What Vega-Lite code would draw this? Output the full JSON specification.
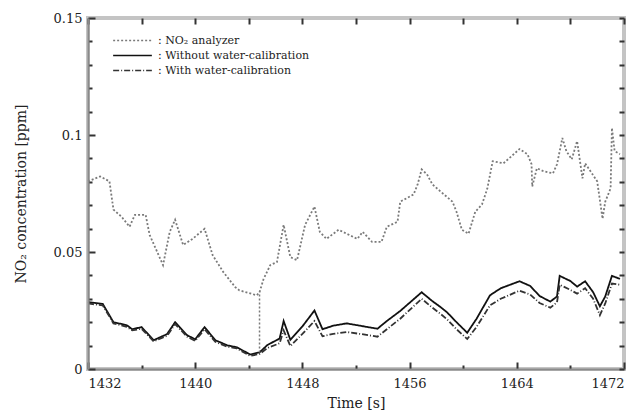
{
 "$schema": "https://vega.github.io/schema/vega-lite/v6.json",
 "width": 536, "height": 351,
 "autosize": {"type": "none"},
 "padding": {"left": 88, "top": 18, "right": 19, "bottom": 48},
 "config": {"font": "DejaVu Serif", "view": {"stroke": "#c4c4c4", "strokeWidth": 4}},
 "resolve": {"axis": {"x": "independent", "y": "independent"}},
 "layer": [
  {
   "data": {"values": [
    {"s":"NO₂ analyzer","t":1432.0,"v":0.0802},{"s":"NO₂ analyzer","t":1432.9,"v":0.0823},{"s":"NO₂ analyzer","t":1433.6,"v":0.0802},{"s":"NO₂ analyzer","t":1433.9,"v":0.0681},{"s":"NO₂ analyzer","t":1434.5,"v":0.0651},{"s":"NO₂ analyzer","t":1435.1,"v":0.0608},{"s":"NO₂ analyzer","t":1435.5,"v":0.0659},{"s":"NO₂ analyzer","t":1436.3,"v":0.0659},{"s":"NO₂ analyzer","t":1436.6,"v":0.0573},{"s":"NO₂ analyzer","t":1437.6,"v":0.0444},{"s":"NO₂ analyzer","t":1438.1,"v":0.0586},{"s":"NO₂ analyzer","t":1438.5,"v":0.0638},{"s":"NO₂ analyzer","t":1439.1,"v":0.0530},{"s":"NO₂ analyzer","t":1439.8,"v":0.0556},{"s":"NO₂ analyzer","t":1440.7,"v":0.0599},{"s":"NO₂ analyzer","t":1441.3,"v":0.0487},{"s":"NO₂ analyzer","t":1442.1,"v":0.0414},{"s":"NO₂ analyzer","t":1443.0,"v":0.0349},{"s":"NO₂ analyzer","t":1443.3,"v":0.0336},{"s":"NO₂ analyzer","t":1444.6,"v":0.0315},{"s":"NO₂ analyzer","t":1444.8,"v":0.0328},{"s":"NO₂ analyzer","t":1445.1,"v":0.0384},{"s":"NO₂ analyzer","t":1445.6,"v":0.0444},{"s":"NO₂ analyzer","t":1446.1,"v":0.0457},{"s":"NO₂ analyzer","t":1446.6,"v":0.0616},{"s":"NO₂ analyzer","t":1447.1,"v":0.0478},{"s":"NO₂ analyzer","t":1447.6,"v":0.0465},{"s":"NO₂ analyzer","t":1448.2,"v":0.0616},{"s":"NO₂ analyzer","t":1448.9,"v":0.0694},{"s":"NO₂ analyzer","t":1449.3,"v":0.0586},{"s":"NO₂ analyzer","t":1449.8,"v":0.0556},{"s":"NO₂ analyzer","t":1450.7,"v":0.0595},{"s":"NO₂ analyzer","t":1452.1,"v":0.0556},{"s":"NO₂ analyzer","t":1452.5,"v":0.0586},{"s":"NO₂ analyzer","t":1453.2,"v":0.0543},{"s":"NO₂ analyzer","t":1453.9,"v":0.0543},{"s":"NO₂ analyzer","t":1454.3,"v":0.0608},{"s":"NO₂ analyzer","t":1455.1,"v":0.0629},{"s":"NO₂ analyzer","t":1455.3,"v":0.0715},{"s":"NO₂ analyzer","t":1456.3,"v":0.0746},{"s":"NO₂ analyzer","t":1456.6,"v":0.0789},{"s":"NO₂ analyzer","t":1456.9,"v":0.0853},{"s":"NO₂ analyzer","t":1457.3,"v":0.0832},{"s":"NO₂ analyzer","t":1457.7,"v":0.0789},{"s":"NO₂ analyzer","t":1458.3,"v":0.0759},{"s":"NO₂ analyzer","t":1459.2,"v":0.0715},{"s":"NO₂ analyzer","t":1459.5,"v":0.0672},{"s":"NO₂ analyzer","t":1459.9,"v":0.0595},{"s":"NO₂ analyzer","t":1460.4,"v":0.0578},{"s":"NO₂ analyzer","t":1460.9,"v":0.0672},{"s":"NO₂ analyzer","t":1461.4,"v":0.0703},{"s":"NO₂ analyzer","t":1461.8,"v":0.0771},{"s":"NO₂ analyzer","t":1462.2,"v":0.0888},{"s":"NO₂ analyzer","t":1463.0,"v":0.0879},{"s":"NO₂ analyzer","t":1463.6,"v":0.0909},{"s":"NO₂ analyzer","t":1464.2,"v":0.0940},{"s":"NO₂ analyzer","t":1464.8,"v":0.0918},{"s":"NO₂ analyzer","t":1465.1,"v":0.0875},{"s":"NO₂ analyzer","t":1465.15,"v":0.0780},{"s":"NO₂ analyzer","t":1465.5,"v":0.0858},{"s":"NO₂ analyzer","t":1466.0,"v":0.0845},{"s":"NO₂ analyzer","t":1466.7,"v":0.0836},{"s":"NO₂ analyzer","t":1467.0,"v":0.0875},{"s":"NO₂ analyzer","t":1467.4,"v":0.0987},{"s":"NO₂ analyzer","t":1467.7,"v":0.0931},{"s":"NO₂ analyzer","t":1468.1,"v":0.0896},{"s":"NO₂ analyzer","t":1468.5,"v":0.0974},{"s":"NO₂ analyzer","t":1468.9,"v":0.0815},{"s":"NO₂ analyzer","t":1469.1,"v":0.0879},{"s":"NO₂ analyzer","t":1469.5,"v":0.0845},{"s":"NO₂ analyzer","t":1470.0,"v":0.0802},{"s":"NO₂ analyzer","t":1470.4,"v":0.0642},{"s":"NO₂ analyzer","t":1470.6,"v":0.0715},{"s":"NO₂ analyzer","t":1471.0,"v":0.0772},{"s":"NO₂ analyzer","t":1471.1,"v":0.1030},{"s":"NO₂ analyzer","t":1471.3,"v":0.0931},{"s":"NO₂ analyzer","t":1471.7,"v":0.0918},
    {"s":"Without water-calibration","t":1432.0,"v":0.0286},{"s":"Without water-calibration","t":1433.1,"v":0.0278},{"s":"Without water-calibration","t":1433.9,"v":0.0200},{"s":"Without water-calibration","t":1434.9,"v":0.0187},{"s":"Without water-calibration","t":1435.3,"v":0.0170},{"s":"Without water-calibration","t":1436.0,"v":0.0179},{"s":"Without water-calibration","t":1436.9,"v":0.0123},{"s":"Without water-calibration","t":1437.9,"v":0.0149},{"s":"Without water-calibration","t":1438.5,"v":0.0200},{"s":"Without water-calibration","t":1439.4,"v":0.0144},{"s":"Without water-calibration","t":1440.0,"v":0.0127},{"s":"Without water-calibration","t":1440.7,"v":0.0179},{"s":"Without water-calibration","t":1441.5,"v":0.0123},{"s":"Without water-calibration","t":1442.4,"v":0.0101},{"s":"Without water-calibration","t":1443.1,"v":0.0093},{"s":"Without water-calibration","t":1444.1,"v":0.0062},{"s":"Without water-calibration","t":1444.8,"v":0.0071},{"s":"Without water-calibration","t":1445.4,"v":0.0103},{"s":"Without water-calibration","t":1446.3,"v":0.0130},{"s":"Without water-calibration","t":1446.6,"v":0.0205},{"s":"Without water-calibration","t":1447.1,"v":0.0125},{"s":"Without water-calibration","t":1448.0,"v":0.0182},{"s":"Without water-calibration","t":1448.9,"v":0.0250},{"s":"Without water-calibration","t":1449.5,"v":0.0170},{"s":"Without water-calibration","t":1450.3,"v":0.0185},{"s":"Without water-calibration","t":1451.3,"v":0.0195},{"s":"Without water-calibration","t":1452.3,"v":0.0185},{"s":"Without water-calibration","t":1453.6,"v":0.0172},{"s":"Without water-calibration","t":1454.3,"v":0.0205},{"s":"Without water-calibration","t":1455.3,"v":0.0248},{"s":"Without water-calibration","t":1456.3,"v":0.0298},{"s":"Without water-calibration","t":1456.9,"v":0.0328},{"s":"Without water-calibration","t":1457.7,"v":0.0290},{"s":"Without water-calibration","t":1458.3,"v":0.0265},{"s":"Without water-calibration","t":1458.8,"v":0.0242},{"s":"Without water-calibration","t":1459.5,"v":0.0200},{"s":"Without water-calibration","t":1460.3,"v":0.0155},{"s":"Without water-calibration","t":1461.0,"v":0.0215},{"s":"Without water-calibration","t":1462.0,"v":0.0315},{"s":"Without water-calibration","t":1462.8,"v":0.0345},{"s":"Without water-calibration","t":1464.2,"v":0.0375},{"s":"Without water-calibration","t":1465.0,"v":0.0355},{"s":"Without water-calibration","t":1465.7,"v":0.0312},{"s":"Without water-calibration","t":1466.5,"v":0.0288},{"s":"Without water-calibration","t":1467.0,"v":0.0310},{"s":"Without water-calibration","t":1467.2,"v":0.0398},{"s":"Without water-calibration","t":1468.0,"v":0.0376},{"s":"Without water-calibration","t":1468.5,"v":0.0352},{"s":"Without water-calibration","t":1469.1,"v":0.0375},{"s":"Without water-calibration","t":1469.7,"v":0.0328},{"s":"Without water-calibration","t":1470.2,"v":0.0268},{"s":"Without water-calibration","t":1470.6,"v":0.0310},{"s":"Without water-calibration","t":1471.1,"v":0.0398},{"s":"Without water-calibration","t":1471.7,"v":0.0385},
    {"s":"With water-calibration","t":1432.0,"v":0.0280},{"s":"With water-calibration","t":1433.1,"v":0.0272},{"s":"With water-calibration","t":1433.9,"v":0.0195},{"s":"With water-calibration","t":1434.9,"v":0.0180},{"s":"With water-calibration","t":1435.3,"v":0.0165},{"s":"With water-calibration","t":1436.0,"v":0.0172},{"s":"With water-calibration","t":1436.9,"v":0.0118},{"s":"With water-calibration","t":1437.9,"v":0.0142},{"s":"With water-calibration","t":1438.5,"v":0.0192},{"s":"With water-calibration","t":1439.4,"v":0.0138},{"s":"With water-calibration","t":1440.0,"v":0.0120},{"s":"With water-calibration","t":1440.7,"v":0.0170},{"s":"With water-calibration","t":1441.5,"v":0.0116},{"s":"With water-calibration","t":1442.4,"v":0.0095},{"s":"With water-calibration","t":1443.1,"v":0.0088},{"s":"With water-calibration","t":1444.1,"v":0.0056},{"s":"With water-calibration","t":1444.8,"v":0.0064},{"s":"With water-calibration","t":1445.4,"v":0.0090},{"s":"With water-calibration","t":1446.3,"v":0.0110},{"s":"With water-calibration","t":1446.6,"v":0.0165},{"s":"With water-calibration","t":1447.1,"v":0.0098},{"s":"With water-calibration","t":1448.0,"v":0.0150},{"s":"With water-calibration","t":1448.9,"v":0.0205},{"s":"With water-calibration","t":1449.5,"v":0.0140},{"s":"With water-calibration","t":1450.3,"v":0.0150},{"s":"With water-calibration","t":1451.3,"v":0.0158},{"s":"With water-calibration","t":1452.3,"v":0.0150},{"s":"With water-calibration","t":1453.6,"v":0.0138},{"s":"With water-calibration","t":1454.3,"v":0.0170},{"s":"With water-calibration","t":1455.3,"v":0.0215},{"s":"With water-calibration","t":1456.3,"v":0.0268},{"s":"With water-calibration","t":1456.9,"v":0.0300},{"s":"With water-calibration","t":1457.7,"v":0.0262},{"s":"With water-calibration","t":1458.3,"v":0.0236},{"s":"With water-calibration","t":1458.8,"v":0.0212},{"s":"With water-calibration","t":1459.5,"v":0.0170},{"s":"With water-calibration","t":1460.3,"v":0.0128},{"s":"With water-calibration","t":1461.0,"v":0.0180},{"s":"With water-calibration","t":1462.0,"v":0.0272},{"s":"With water-calibration","t":1462.8,"v":0.0300},{"s":"With water-calibration","t":1464.2,"v":0.0335},{"s":"With water-calibration","t":1465.0,"v":0.0318},{"s":"With water-calibration","t":1465.7,"v":0.0282},{"s":"With water-calibration","t":1466.5,"v":0.0262},{"s":"With water-calibration","t":1467.0,"v":0.0285},{"s":"With water-calibration","t":1467.2,"v":0.0360},{"s":"With water-calibration","t":1468.0,"v":0.0338},{"s":"With water-calibration","t":1468.5,"v":0.0322},{"s":"With water-calibration","t":1469.1,"v":0.0345},{"s":"With water-calibration","t":1469.7,"v":0.0300},{"s":"With water-calibration","t":1470.2,"v":0.0230},{"s":"With water-calibration","t":1470.6,"v":0.0280},{"s":"With water-calibration","t":1471.1,"v":0.0365},{"s":"With water-calibration","t":1471.7,"v":0.0360}
   ]},
   "mark": {"type": "line", "strokeWidth": 1.8},
   "encoding": {
    "x": {"field": "t", "type": "quantitative", "scale": {"domain": [1432, 1472], "nice": false, "zero": false},
      "axis": {"orient": "bottom", "title": "Time [s]", "zindex": 1, "values": [1432,1436,1440,1444,1448,1452,1456,1460,1464,1468,1472],
        "labelExpr": "datum.value % 8 == 0 ? format(datum.value, 'd') : ''", "ticks": true, "tickSize": {"condition": {"test": "datum.value % 8 == 0", "value": -7}, "value": -4}, "tickWidth": 2,
        "grid": false, "domainColor": "#8a8a8a", "domainWidth": 2, "tickColor": "#333", "labelFont": "DejaVu Serif", "labelFontSize": 13, "labelColor": "#222", "labelPadding": 15, "titleFont": "DejaVu Serif", "titleFontSize": 14, "titleFontWeight": "normal", "titleColor": "#222", "titlePadding": 6}},
    "y": {"field": "v", "type": "quantitative", "scale": {"domain": [0, 0.15], "nice": false},
      "axis": {"orient": "left", "title": "NO₂ concentration [ppm]", "zindex": 1, "values": [0,0.01,0.02,0.03,0.04,0.05,0.06,0.07,0.08,0.09,0.1,0.11,0.12,0.13,0.14,0.15],
        "labelExpr": "round(datum.value*100) % 5 == 0 ? format(datum.value, '~g') : ''", "ticks": true, "tickSize": {"condition": {"test": "round(datum.value*100) % 5 == 0", "value": -7}, "value": -4}, "tickWidth": 2,
        "grid": false, "domainColor": "#8a8a8a", "domainWidth": 2, "tickColor": "#333", "labelFont": "DejaVu Serif", "labelFontSize": 13, "labelColor": "#222", "labelPadding": 13, "titleFont": "DejaVu Serif", "titleFontSize": 14, "titleFontWeight": "normal", "titleColor": "#222", "titlePadding": 25}},
    "color": {"field": "s", "type": "nominal", "scale": {"domain": ["NO₂ analyzer", "Without water-calibration", "With water-calibration"], "range": ["#7a7a7a", "#111111", "#333333"]},
      "legend": {"title": null, "orient": "none", "legendX": 24, "legendY": 15, "padding": 0, "symbolType": "stroke", "symbolSize": 1500, "symbolStrokeWidth": 1.5, "labelFont": "DejaVu Serif", "labelFontSize": 11, "labelColor": "#222", "labelExpr": "': ' + datum.label", "clipHeight": 15, "rowPadding": 0, "labelOffset": 5}},
    "strokeDash": {"field": "s", "type": "nominal", "scale": {"domain": ["NO₂ analyzer", "Without water-calibration", "With water-calibration"], "range": [[2, 2], [1, 0], [6, 2, 1, 2]]},
      "legend": {"title": null, "orient": "none", "legendX": 24, "legendY": 15, "padding": 0, "symbolType": "stroke", "symbolSize": 1500, "symbolStrokeWidth": 1.5, "labelFont": "DejaVu Serif", "labelFontSize": 11, "labelColor": "#222", "labelExpr": "': ' + datum.label", "clipHeight": 15, "rowPadding": 0, "labelOffset": 5}}
   }
  },
  {
   "data": {"values": [{"t": 1444.8, "v1": 0.007, "v2": 0.0328}]},
   "mark": {"type": "rule", "strokeDash": [2, 2], "color": "#7a7a7a", "strokeWidth": 1.5},
   "encoding": {
    "x": {"field": "t", "type": "quantitative", "scale": {"domain": [1432, 1472], "nice": false, "zero": false},
      "axis": {"orient": "top", "title": null, "zindex": 1, "labels": false, "domain": false, "grid": false, "ticks": true, "values": [1432,1436,1440,1444,1448,1452,1456,1460,1464,1468,1472], "tickSize": -6, "tickWidth": 2, "tickColor": "#333"}},
    "y": {"field": "v1", "type": "quantitative", "scale": {"domain": [0, 0.15], "nice": false},
      "axis": {"orient": "right", "title": null, "zindex": 1, "labels": false, "domain": false, "grid": false, "ticks": true, "values": [0,0.01,0.02,0.03,0.04,0.05,0.06,0.07,0.08,0.09,0.1,0.11,0.12,0.13,0.14,0.15], "tickSize": -5, "tickWidth": 2, "tickColor": "#333"}},
    "y2": {"field": "v2"}
   }
  }
 ]
}
